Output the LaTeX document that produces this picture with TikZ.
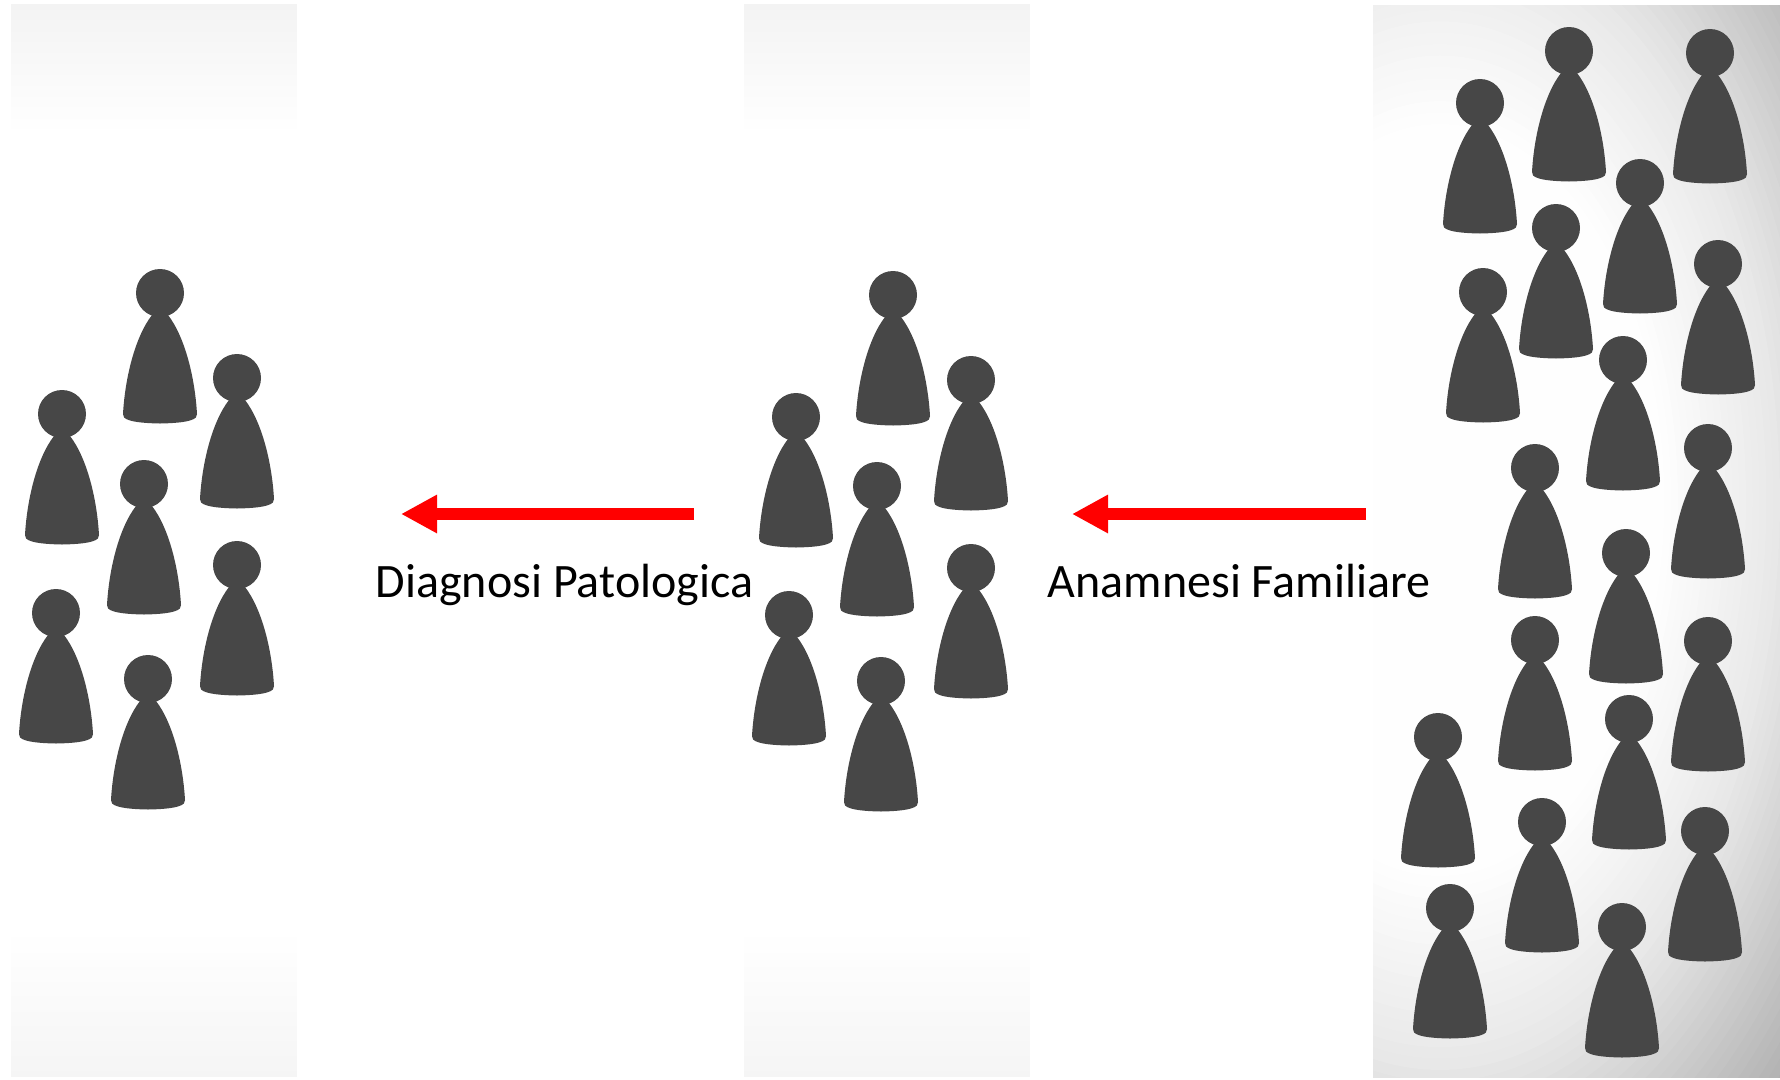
\documentclass[tikz,border=0pt]{standalone}
\usepackage{fontspec}
\setmainfont{Carlito}
\usetikzlibrary{arrows.meta,fadings}
\definecolor{pawn}{HTML}{474747}
\definecolor{flow}{HTML}{FF0000}
\tikzfading[name=fadetotop,bottom color=transparent!100,top color=transparent!0]
\tikzfading[name=fadetobottom,top color=transparent!100,bottom color=transparent!0]
\tikzset{
  pawnfig/.pic={
    \fill[pawn] (0,0) circle[radius=24];
    \fill[pawn] (-37,121) .. controls (-35,85) and (-25,44) .. (-8,22)
      -- (8,22)
      .. controls (25,44) and (35,85) .. (37,121)
      .. controls (38,126) and (30,130) .. (0,130.5)
      .. controls (-30,130) and (-38,126) .. (-37,121) -- cycle;
  },
  flowarrow/.style={draw=flow,line width=12.5pt,-{Triangle[length=36pt,width=36pt]}},
  lbl/.style={font=\fontsize{48}{58}\selectfont,text=black,inner sep=0pt,anchor=base}
}
\begin{document}
\begin{tikzpicture}[x=1pt,y=-1pt]
\useasboundingbox (0,0) rectangle (1780,1079);
\fill[white] (0,0) rectangle (1780,1079);
% left and middle panels
\foreach \xa in {11,744}{
  \fill[black,opacity=0.048,path fading=fadetotop] (\xa,4) rectangle ++(286,130);
  \fill[black,opacity=0.04,path fading=fadetobottom] (\xa,930) rectangle ++(286,147);
}
% right panel: stacked ellipses, grey at the corners, white in the middle
\begin{scope}
  \clip (1373,5) rectangle (1780,1077);
  \fill[white!66!black] (1373,5) rectangle (1780,1077);
  \foreach \r in {1.50,1.48,...,0.64}{
    \pgfmathsetmacro{\lev}{\r>1 ? max(66,91-(\r-1)*48.8) : min(100,100-(\r-0.65)*25.7)}
    \fill[white!\lev!black] (1440,500) ellipse [x radius={340*\r},y radius={570*\r}];
  }
\end{scope}
% left group
\foreach \hx/\hy in {160/293,237/378,62/414,144/484,237/565,56/613,148/679}{
  \pic at (\hx,\hy) {pawnfig};
}
% middle group
\foreach \hx/\hy in {893/295,971/380,796/417,877/486,971/568,789/615,881/681}{
  \pic at (\hx,\hy) {pawnfig};
}
% right group
\foreach \hx/\hy in {1569/51,1710/53,1480/103,1640/183,1556/228,1718/264,1483/292,1623/360,1708/448,1535/468,1626/553,1708/641,1535/640,1629/719,1438/737,1542/822,1705/831,1450/908,1622/927}{
  \pic at (\hx,\hy) {pawnfig};
}
\coordinate (astart) at (694,514);
\coordinate (aend) at (401,514);
\coordinate (bstart) at (1366,514);
\coordinate (bend) at (1072,514);
\draw[flowarrow] (astart) -- (aend);
\draw[flowarrow] (bstart) -- (bend);
\node[lbl] (diag) at (564.5,597) {Diagnosi Patologica};
\node[lbl] (anam) at (1239,597) {Anamnesi Familiare};
\end{tikzpicture}
\end{document}
